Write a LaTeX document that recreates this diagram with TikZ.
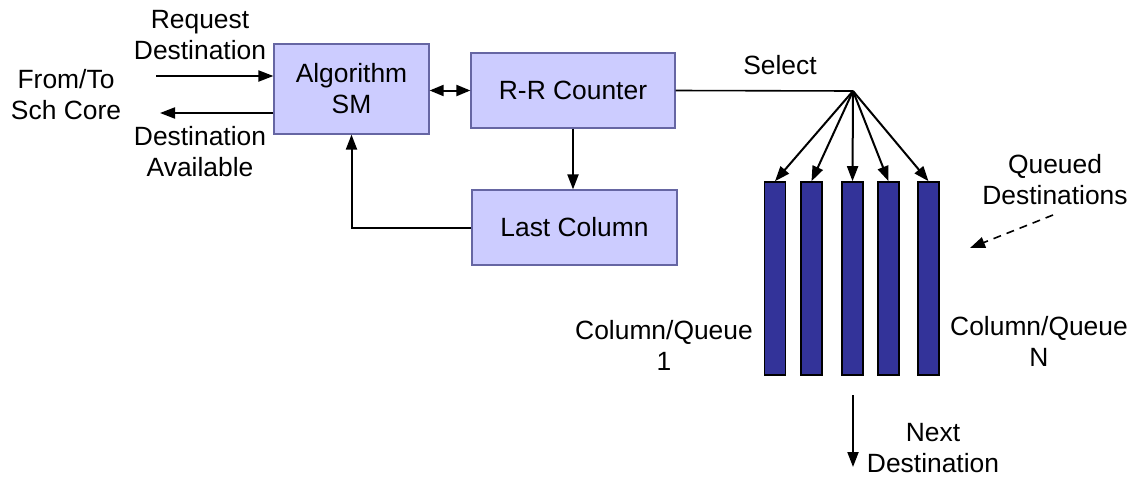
\documentclass[tikz,border=0pt]{standalone}
\usepackage{fontspec}
\setmainfont{Liberation Sans}
\usetikzlibrary{arrows.meta}

\tikzset{
  blk/.style={draw=blue!40!black!60,fill=blue!20,line width=0.6pt,inner sep=0pt,align=center,font=\fontsize{13.2}{15.5}\selectfont},
  qbar/.style={draw=black,fill=blue!50!black!80,line width=0.8pt,minimum width=10.5pt,minimum height=96.5pt,inner sep=0pt},
  lbl/.style={align=center,inner sep=0pt,font=\fontsize{13.2}{15.5}\selectfont},
  tip/.style={Triangle[length=7.5pt,width=5.5pt]},
  arr/.style={line width=1pt,-{Triangle[length=7.5pt,width=5.5pt]}}
}

\begin{document}
\begin{tikzpicture}[x=0.5pt,y=-0.5pt]
\useasboundingbox (0,0) rectangle (1140,477);
% blocks
\node[blk,minimum width=77.5pt,minimum height=45pt] (alg) at (351.5,89) {Algorithm\\SM};
\node[blk,minimum width=102pt,minimum height=37.5pt] (rr) at (573,90.5) {R-R Counter};
\node[blk,minimum width=102.5pt,minimum height=37.5pt] (lc) at (574.5,227.5) {Last Column};
% queues
\foreach \x [count=\i] in {775,811.5,852.5,888.5,928.5}
  \node[qbar] (q\i) at (\x,278.5) {};
% labels
\node[lbl] (req) at (200,35) {Request\\Destination};
\node[lbl] (sch) at (66,95) {From/To\\Sch Core};
\node[lbl] (avl) at (200,152) {Destination\\Available};
\node[lbl] (sel-lbl) at (780,65) {Select};
\node[lbl] (cq1) at (664,345) {Column/Queue\\1};
\node[lbl] (cqn) at (1039,341) {Column/Queue\\N};
\node[lbl] (queued) at (1055,180) {Queued\\Destinations};
\node[lbl] (next) at (933,448) {Next\\Destination};
% free ends
\coordinate (reqin) at (156,76);
\coordinate (avout) at (160,113);
\coordinate (sel) at (853,91);
\coordinate (nx1) at (853,395);
\coordinate (nx2) at (853,467);
\coordinate (qd1) at (1053,215);
\coordinate (qd2) at (970,248);
% connectors
\draw[arr] (reqin) -- (reqin -| alg.west);
\draw[arr] (alg.west |- avout) -- (avout);
\draw[line width=1pt,{Triangle[length=7pt,width=5.5pt]}-{Triangle[length=7pt,width=5.5pt]}] (alg.east |- rr.west) -- (rr.west);
\draw[arr] (rr.south) -- (rr.south |- lc.north);
\draw[arr] (lc.west) -| (alg.south);
\draw[line width=0.8pt] (rr.east) -- (sel);
\foreach \i in {1,...,5}
  \draw[arr] (sel) -- (q\i.north);
\draw[arr] (nx1) -- (nx2);
\draw[arr,dashed,line width=0.8pt,dash pattern=on 4pt off 3pt] (qd1) -- (qd2);
\end{tikzpicture}
\end{document}
